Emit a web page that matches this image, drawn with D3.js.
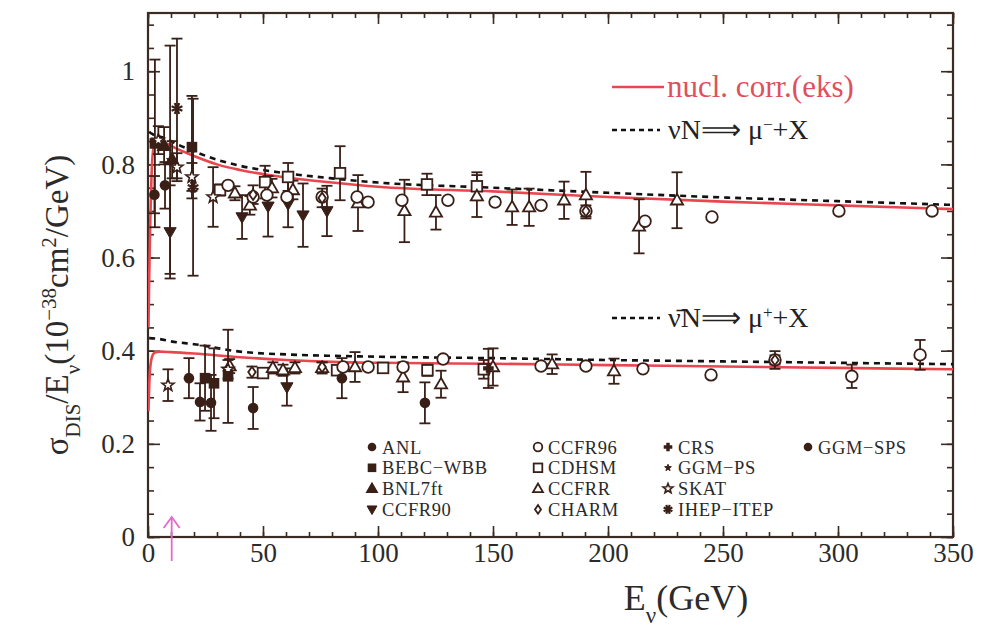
<!DOCTYPE html>
<html><head><meta charset="utf-8">
<script src="https://cdn.jsdelivr.net/npm/d3@7"></script>
<style>body{margin:0;background:#fff}svg{display:block}text{font-family:"Liberation Serif","Times New Roman",serif}</style>
</head><body><svg id="c" width="985" height="627"></svg>
<script>
// ---------------- DATA (E in GeV, sigma/E, error) ----------------
const xTicks = [0,50,100,150,200,250,300,350];
const yTicks = [0,0.2,0.4,0.6,0.8,1];

// theory curves
const nuRedE   = [0.2,0.5,1,1.5,2,3,5,8,12,20,30,40,60,80,100,150,200,250,300,350];
const nuRedV   = [0.45,0.55,0.68,0.77,0.82,0.845,0.85,0.845,0.835,0.818,0.80,0.788,0.772,0.761,0.752,0.742,0.73,0.72,0.712,0.704];
const nuDashE  = [0.5,1,2,3,5,8,12,20,30,40,60,80,100,150,200,250,300,350];
const nuDashV  = [0.87,0.868,0.865,0.862,0.86,0.855,0.845,0.828,0.81,0.797,0.781,0.77,0.761,0.75,0.739,0.729,0.721,0.713];
const nbRedE   = [0.2,0.5,1,2,3,5,10,20,40,60,80,100,150,200,250,300,350];
const nbRedV   = [0.27,0.32,0.365,0.39,0.396,0.398,0.397,0.394,0.386,0.38,0.376,0.374,0.372,0.369,0.366,0.363,0.36];
const nbDashE  = [0.5,5,10,20,40,60,80,100,150,200,250,300,350];
const nbDashV  = [0.427,0.425,0.42,0.414,0.398,0.392,0.389,0.387,0.384,0.38,0.377,0.374,0.371];

// neutrino data [E, value, error]
const ANL_nu    = [[2.8,0.735,0.04],[7.4,0.755,0.05]];
const BEBC_nu   = [[3.0,0.845,0.18],[19.1,0.837,0.11]];
const BNL_nu    = [[7.0,0.84,0.04],[10.5,0.81,0.04]];
const CCFR90_nu = [[9.6,0.655,0.1],[40.9,0.687,0.047],[52.2,0.71,0.065],[60.9,0.715,0.05],[67.4,0.691,0.068],[77.8,0.70,0.054]];
const CCFR96_nu = [[34.8,0.755,0],[45.7,0.73,0],[51.7,0.734,0],[60.4,0.73,0],[75.7,0.73,0],[90.9,0.73,0],[95.7,0.719,0],[110.4,0.723,0],[130.4,0.723,0],[150.9,0.719,0],[170.9,0.712,0],[190.4,0.70,0],[216.1,0.678,0],[245.2,0.687,0],[300.4,0.70,0],[340.9,0.70,0]];
const CDHSM_nu  = [[31.3,0.745,0.012],[50.9,0.762,0.035],[60.9,0.773,0.03],[83.5,0.781,0.058],[121.3,0.757,0.023],[143,0.753,0.03]];
const CCFRR_nu  = [[37.8,0.738,0.015],[44.3,0.712,0.02],[53.9,0.749,0.02],[63,0.745,0.02],[91.3,0.717,0.06],[111.5,0.70,0.067],[125.2,0.697,0.037],[143,0.732,0.045],[158.3,0.708,0.038],[165.7,0.708,0.04],[180.9,0.723,0.04],[190.4,0.734,0.05],[213.5,0.667,0.058],[230,0.723,0.06]];
const CHARM_nu  = [[45.7,0.735,0.02],[75.7,0.728,0.02],[190.4,0.70,0.012]];
const GGMPS_nu  = [[9.6,0.81,0.245]];
const SKAT_nu   = [[4.5,0.852,0.03],[12.6,0.794,0.03],[19.1,0.773,0.03],[28.3,0.73,0.064]];
const IHEP_nu   = [[12.6,0.92,0.15],[19.6,0.751,0.19]];

// antineutrino data [E, value, error]
const SKAT_nb   = [[8.7,0.326,0.034],[34.8,0.36,0.02]];
const GGMSPS_nb = [[17.8,0.341,0.043],[22.6,0.29,0.04],[27.4,0.288,0.06],[45.7,0.277,0.045],[84.3,0.341,0.043],[120.4,0.288,0.044]];
const BEBC_nb   = [[24.8,0.341,0.07],[28.7,0.33,0.075],[34.8,0.345,0.1]];
const CCFR90_nb = [[60.4,0.322,0.04]];
const CCFRR_nb  = [[35.5,0.367,0.015],[54.3,0.363,0.012],[58.7,0.358,0.012],[63.9,0.363,0.012],[75.7,0.363,0.012],[90,0.365,0.032],[110.9,0.343,0.032],[127.4,0.328,0.029],[150,0.365,0.04],[175.7,0.371,0.021],[202.6,0.356,0.027]];
const CDHSM_nb  = [[50,0.352,0.01],[82.2,0.358,0.01],[102.2,0.363,0.01],[121.5,0.358,0.012],[146,0.36,0.02]];
const CCFR96_nb = [[84.8,0.365,0],[95.7,0.365,0],[110.9,0.365,0],[128.3,0.382,0],[170.9,0.367,0],[190.4,0.367,0],[215.2,0.361,0],[244.8,0.348,0],[272.6,0.38,0.019],[306,0.345,0.025],[335.7,0.391,0.032]];
const CHARM_nb  = [[45.2,0.354,0.012],[75.7,0.365,0.01],[272.6,0.38,0.01]];
const CRS_nb    = [[148,0.362,0.042]];

const legendNames = ["ANL","BEBC\u2212WBB","BNL7ft","CCFR90","CCFR96","CDHSM","CCFRR","CHARM","CRS","GGM\u2212PS","SKAT","IHEP\u2212ITEP","GGM\u2212SPS"];
const legendTypes = ["circleF","squareF","triUpF","triDownF","circleO","squareO","triUpO","diamondO","crossF","starS","starO","asterisk","circleF"];
const arrowE = 10.3;

// ---------------- DRAWING ----------------
const DARK = "#3a1f17", FRAME = "#3b2b22", RED = "#e9474f";
const svg = d3.select("#c");
const FONT = "Liberation Serif, Times New Roman, serif";
const x = d3.scaleLinear().domain([0,350]).range([148,953]);
const y = d3.scaleLinear().domain([0,1.125]).range([537,13]);

svg.append("rect").attr("width",985).attr("height",627).attr("fill","#fff");
svg.append("clipPath").attr("id","clip").append("rect")
  .attr("x",x(0)).attr("y",y(1.125)).attr("width",x(350)-x(0)).attr("height",y(0)-y(1.125));

// axes
function styleAxis(g){ g.attr("font-family",FONT); g.select(".domain").remove(); g.selectAll("line").attr("stroke",FRAME).attr("stroke-width",1.6);
  g.selectAll("text").attr("font-family",FONT).attr("font-size",27).attr("fill","#2b2b2b"); }
const minorX = d3.range(0,351,10), minorY = d3.range(0,1.1251,0.05);
svg.append("g").attr("transform",`translate(0,${y(0)})`).call(d3.axisBottom(x).tickValues(minorX).tickSize(-5).tickFormat("")).call(styleAxis);
svg.append("g").attr("transform",`translate(0,${y(0)})`).call(d3.axisBottom(x).tickValues(xTicks).tickSize(-11).tickPadding(6).tickFormat(d3.format("d"))).call(styleAxis);
svg.append("g").attr("transform",`translate(0,${y(1.125)})`).call(d3.axisTop(x).tickValues(minorX).tickSize(-5).tickFormat("")).call(styleAxis);
svg.append("g").attr("transform",`translate(0,${y(1.125)})`).call(d3.axisTop(x).tickValues(xTicks).tickSize(-11).tickFormat("")).call(styleAxis);
svg.append("g").attr("transform",`translate(${x(0)},0)`).call(d3.axisLeft(y).tickValues(minorY).tickSize(-6).tickFormat("")).call(styleAxis);
svg.append("g").attr("transform",`translate(${x(0)},0)`).call(d3.axisLeft(y).tickValues(yTicks).tickSize(-12).tickPadding(13).tickFormat(d=>d===0?"0":d===1?"1":d.toFixed(1))).call(styleAxis);
svg.append("g").attr("transform",`translate(${x(350)},0)`).call(d3.axisRight(y).tickValues(minorY).tickSize(-6).tickFormat("")).call(styleAxis);
svg.append("g").attr("transform",`translate(${x(350)},0)`).call(d3.axisRight(y).tickValues(yTicks).tickSize(-12).tickFormat("")).call(styleAxis);
svg.append("rect").attr("x",x(0)).attr("y",y(1.125)).attr("width",x(350)-x(0)).attr("height",y(0)-y(1.125))
  .attr("fill","none").attr("stroke",FRAME).attr("stroke-width",2.2);

// curves
const plot = svg.append("g").attr("clip-path","url(#clip)");
function curve(E,V,dash,color,w){
  const pts = E.map((e,i)=>[e,V[i]]);
  plot.append("path").datum(pts)
    .attr("d",d3.line().x(d=>x(d[0])).y(d=>y(d[1])).curve(d3.curveMonotoneX))
    .attr("fill","none").attr("stroke",color).attr("stroke-width",w)
    .attr("stroke-dasharray",dash||null);
}
curve(nuRedE,nuRedV,null,RED,2.6);
curve(nbRedE,nbRedV,null,RED,2.6);
curve(nuDashE,nuDashV,"6,5","#111",2.6);
curve(nbDashE,nbDashV,"6,5","#111",2.6);

// markers
function marker(g,type,cx,cy,s){
  const sw = 1.8;
  switch(type){
    case "circleF": g.append("circle").attr("cx",cx).attr("cy",cy).attr("r",s).attr("fill",DARK); break;
    case "circleO": g.append("circle").attr("cx",cx).attr("cy",cy).attr("r",s).attr("fill","#fff").attr("stroke",DARK).attr("stroke-width",sw); break;
    case "squareF": g.append("rect").attr("x",cx-s).attr("y",cy-s).attr("width",2*s).attr("height",2*s).attr("fill",DARK); break;
    case "squareO": g.append("rect").attr("x",cx-s).attr("y",cy-s).attr("width",2*s).attr("height",2*s).attr("fill","#fff").attr("stroke",DARK).attr("stroke-width",sw); break;
    case "triUpF": case "triUpO": {
      const p=[[cx,cy-s*1.2],[cx-s*1.15,cy+s*0.8],[cx+s*1.15,cy+s*0.8]];
      g.append("polygon").attr("points",p.join(" ")).attr("fill",type==="triUpF"?DARK:"#fff").attr("stroke",DARK).attr("stroke-width",sw); break; }
    case "triDownF": {
      const p=[[cx,cy+s*1.2],[cx-s*1.15,cy-s*0.8],[cx+s*1.15,cy-s*0.8]];
      g.append("polygon").attr("points",p.join(" ")).attr("fill",DARK).attr("stroke",DARK).attr("stroke-width",1); break; }
    case "diamondO": {
      const p=[[cx,cy-s],[cx-s*0.7,cy],[cx,cy+s],[cx+s*0.7,cy]];
      g.append("polygon").attr("points",p.join(" ")).attr("fill","#fff").attr("stroke",DARK).attr("stroke-width",sw); break; }
    case "crossF": {
      const a=s*0.4;
      const d=`M${cx-a},${cy-s}H${cx+a}V${cy-a}H${cx+s}V${cy+a}H${cx+a}V${cy+s}H${cx-a}V${cy+a}H${cx-s}V${cy-a}H${cx-a}Z`;
      g.append("path").attr("d",d).attr("fill",DARK); break; }
    case "starS": case "starO": {
      const r1 = type==="starS"? s*0.7 : s*1.2, r2=r1*0.42, pts=[];
      for(let i=0;i<10;i++){const r=i%2?r2:r1, a=-Math.PI/2+i*Math.PI/5; pts.push([cx+r*Math.cos(a),cy+r*Math.sin(a)]);}
      g.append("polygon").attr("points",pts.join(" ")).attr("fill",type==="starS"?DARK:"#fff").attr("stroke",DARK).attr("stroke-width",type==="starS"?1:1.6); break; }
    case "asterisk": {
      for(let k=0;k<4;k++){const a=k*Math.PI/4+Math.PI/8; g.append("line").attr("x1",cx-s*1.1*Math.cos(a)).attr("y1",cy-s*1.1*Math.sin(a))
        .attr("x2",cx+s*1.1*Math.cos(a)).attr("y2",cy+s*1.1*Math.sin(a)).attr("stroke",DARK).attr("stroke-width",2.2);} break; }
  }
}
const seriesList = [
  ["starS",GGMPS_nu],["circleF",ANL_nu],["squareF",BEBC_nu],["triUpF",BNL_nu],["triDownF",CCFR90_nu],
  ["squareO",CDHSM_nu],["triUpO",CCFRR_nu],["circleO",CCFR96_nu],["diamondO",CHARM_nu],["starO",SKAT_nu],["asterisk",IHEP_nu],
  ["squareO",CDHSM_nb],["triUpO",CCFRR_nb],["circleO",CCFR96_nb],["diamondO",CHARM_nb],["crossF",CRS_nb],
  ["starO",SKAT_nb],["squareF",BEBC_nb],["triDownF",CCFR90_nb],["circleF",GGMSPS_nb]
];
const dg = plot.append("g");
seriesList.forEach(([type,data])=>{
  data.forEach(([e,v,err])=>{
    if(err>0){
      const cx=x(e), y1=y(v+err), y2=y(v-err);
      dg.append("line").attr("x1",cx).attr("x2",cx).attr("y1",y1).attr("y2",y2).attr("stroke",DARK).attr("stroke-width",1.8);
      [y1,y2].forEach(yy=>dg.append("line").attr("x1",cx-5.5).attr("x2",cx+5.5).attr("y1",yy).attr("y2",yy).attr("stroke",DARK).attr("stroke-width",1.8));
    }
  });
});
seriesList.forEach(([type,data])=>{
  data.forEach(([e,v])=>marker(dg,type,x(e),y(v),type==="circleO"?5.8:5.3));
});

// top legend
const T = svg.append("g").attr("font-family",FONT);
T.append("line").attr("x1",612).attr("x2",664).attr("y1",87).attr("y2",87).attr("stroke",RED).attr("stroke-width",2.6);
T.append("text").attr("x",667).attr("y",97).attr("font-size",31).attr("fill","#e0505c").text("nucl. corr.(eks)");
T.append("line").attr("x1",612).attr("x2",660).attr("y1",130).attr("y2",130).attr("stroke","#111").attr("stroke-width",2.4).attr("stroke-dasharray","5,4");
const t1 = T.append("text").attr("x",668).attr("y",139).attr("font-size",28).attr("fill","#222");
t1.append("tspan").text("\u03BDN\u27F9 \u03BC");
t1.append("tspan").attr("baseline-shift","super").attr("font-size",17).text("\u2212");
t1.append("tspan").text("+X");
T.append("line").attr("x1",612).attr("x2",660).attr("y1",318).attr("y2",318).attr("stroke","#111").attr("stroke-width",2.4).attr("stroke-dasharray","5,4");
const t2 = T.append("text").attr("x",668).attr("y",327).attr("font-size",28).attr("fill","#222");
t2.append("tspan").text("\u03BD\u0304N\u27F9 \u03BC");
t2.append("tspan").attr("baseline-shift","super").attr("font-size",17).text("+");
t2.append("tspan").text("+X");

// bottom legend
const colX = [372,538,668,808];
const L = svg.append("g").attr("font-family",FONT);
legendNames.forEach((nm,i)=>{
  const col = Math.min(Math.floor(i/4),3), row = i<12 ? i%4 : 0;
  const mx = colX[col], my = 447+row*20.8;
  marker(L,legendTypes[i],mx,my,legendTypes[i]==="starS"?5:4.3);
  L.append("text").attr("x",mx+10).attr("y",my+6.5).attr("font-size",18.5).attr("letter-spacing",0.6).attr("fill","#2a2a2a").text(nm);
});

// axis titles
const xt = svg.append("text").attr("x",686).attr("y",610).attr("text-anchor","middle").attr("font-family",FONT).attr("font-size",36).attr("fill","#2b2b2b");
xt.append("tspan").text("E");
xt.append("tspan").attr("baseline-shift","sub").attr("font-size",23).text("\u03BD");
xt.append("tspan").text("(GeV)");
const yt = svg.append("text").attr("transform","translate(68,305) rotate(-90)").attr("text-anchor","middle").attr("font-family",FONT).attr("font-size",33).attr("fill","#2b2b2b");
yt.append("tspan").text("\u03C3");
yt.append("tspan").attr("baseline-shift","sub").attr("font-size",21).text("DIS");
yt.append("tspan").text("/E");
yt.append("tspan").attr("baseline-shift","sub").attr("font-size",21).text("\u03BD");
yt.append("tspan").text("(10");
yt.append("tspan").attr("baseline-shift","super").attr("font-size",21).text("\u221238");
yt.append("tspan").text("cm");
yt.append("tspan").attr("baseline-shift","super").attr("font-size",21).text("2");
yt.append("tspan").text("/GeV)");

// pink arrow
const ax = x(arrowE);
const A = svg.append("g").attr("stroke","#e46ac8").attr("stroke-width",1.8).attr("fill","none");
A.append("line").attr("x1",ax).attr("x2",ax).attr("y1",y(0)+24).attr("y2",y(0)-20);
A.append("polyline").attr("points",`${ax-8},${y(0)-9} ${ax},${y(0)-20} ${ax+8},${y(0)-9}`);
</script></body></html>
